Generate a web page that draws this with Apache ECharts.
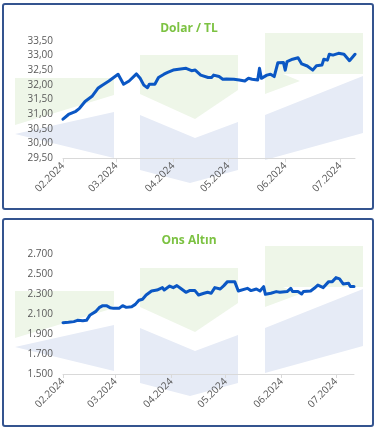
<!DOCTYPE html>
<html><head><meta charset="utf-8">
<script src="https://cdn.jsdelivr.net/npm/echarts@6/dist/echarts.min.js"></script>
<style>html,body{margin:0;padding:0;background:#fff}#c{width:378px;height:431px}</style>
</head><body><div id="c"></div>
<script>
// ---- Data ----
const usdTitle = 'Dolar / TL';
const goldTitle = 'Ons Altın';
const usdRange = ['2024-02-01', '2024-07-09'];
const goldRange = ['2024-02-01', '2024-07-11'];
const usdDates = ['2024-02-01','2024-02-04','2024-02-08','2024-02-10','2024-02-13','2024-02-17','2024-02-20','2024-02-22','2024-02-26','2024-02-27',
 '2024-03-02','2024-03-05','2024-03-08','2024-03-12','2024-03-14','2024-03-16','2024-03-18','2024-03-19','2024-03-22','2024-03-24','2024-03-27','2024-03-29',
 '2024-04-01','2024-04-02','2024-04-05','2024-04-08','2024-04-11','2024-04-13','2024-04-16','2024-04-20','2024-04-22','2024-04-23','2024-04-26','2024-04-28','2024-04-30',
 '2024-05-04','2024-05-07','2024-05-10','2024-05-12','2024-05-14','2024-05-17','2024-05-18','2024-05-19','2024-05-22','2024-05-24','2024-05-26','2024-05-28','2024-05-31',
 '2024-06-01','2024-06-02','2024-06-05','2024-06-08','2024-06-10','2024-06-13','2024-06-16','2024-06-18','2024-06-21','2024-06-22','2024-06-24','2024-06-25','2024-06-27','2024-06-30',
 '2024-07-03','2024-07-06','2024-07-09'];
const usdValues = [30.83,30.99,31.10,31.20,31.43,31.62,31.88,31.97,32.13,32.14,
 32.36,32.02,32.13,32.37,32.22,31.99,31.90,32.02,32.02,32.25,32.36,32.42,
 32.50,32.54,32.54,32.56,32.48,32.50,32.33,32.25,32.25,32.33,32.28,32.19,32.20,
 32.19,32.16,32.13,32.22,32.19,32.16,32.56,32.22,32.33,32.36,32.28,32.75,32.76,
 32.50,32.79,32.87,32.92,32.71,32.64,32.50,32.65,32.67,32.87,32.84,33.04,33.01,33.07,
 33.04,32.82,33.04];
const goldDates = ['2024-02-01','2024-02-04','2024-02-07','2024-02-09','2024-02-12','2024-02-14','2024-02-16','2024-02-19','2024-02-21','2024-02-23','2024-02-25','2024-02-27','2024-02-29',
 '2024-03-03','2024-03-05','2024-03-07','2024-03-10','2024-03-12','2024-03-14','2024-03-16','2024-03-18','2024-03-21','2024-03-24','2024-03-27','2024-03-28','2024-03-31',
 '2024-04-02','2024-04-04','2024-04-06','2024-04-09','2024-04-11','2024-04-14','2024-04-16','2024-04-19','2024-04-21','2024-04-23','2024-04-25','2024-04-28','2024-04-30',
 '2024-05-02','2024-05-06','2024-05-08','2024-05-13','2024-05-15','2024-05-18','2024-05-20','2024-05-22','2024-05-23','2024-05-26','2024-05-29','2024-05-31',
 '2024-06-01','2024-06-04','2024-06-06','2024-06-07','2024-06-10','2024-06-12','2024-06-13','2024-06-17','2024-06-19','2024-06-21','2024-06-24','2024-06-25','2024-06-27','2024-06-29',
 '2024-07-01','2024-07-03','2024-07-05','2024-07-08','2024-07-09','2024-07-11'];
const goldValues = [2015,2018,2025,2038,2035,2038,2092,2125,2165,2185,2185,2165,2158,
 2158,2185,2168,2175,2198,2239,2249,2292,2332,2342,2366,2342,2382,
 2366,2386,2359,2319,2336,2336,2292,2309,2319,2309,2366,2352,2386,
 2426,2426,2332,2359,2336,2352,2332,2376,2299,2309,2326,2319,
 2332,2326,2359,2326,2326,2302,2326,2332,2359,2392,2366,2376,2426,2426,
 2466,2453,2403,2409,2376,2376];
const usdTicks = {min: 29.5, max: 33.5, interval: 0.5};
const goldTicks = {min: 1500, max: 2700, interval: 200};

// ---- helpers ----
function dayList(a, b) {
  const out = [];
  let t = Date.parse(a + 'T00:00:00Z');
  const e = Date.parse(b + 'T00:00:00Z');
  while (t <= e) { out.push(new Date(t).toISOString().slice(0, 10)); t += 86400000; }
  return out;
}
const usdCats = dayList(usdRange[0], usdRange[1]);
const goldCats = dayList(goldRange[0], goldRange[1]);
const isMonthStart = (i, v) => v.slice(8) === '01';
const monthLabel = v => v.slice(5, 7) + '.' + v.slice(0, 4);

const FONT = '"Open Sans", sans-serif';
const LABEL = '#595959';
const GREEN_BG = '#eef6e8';
const BLUE_BG = '#e6ebf6';

function watermark(dy) {
  const polys = [
    [[[15,78],[114,78],[114,95],[15,125]], GREEN_BG],
    [[[15,134],[114,112],[114,158]], BLUE_BG],
    [[[140,55],[238,55],[238,90],[195,119],[140,94]], GREEN_BG],
    [[[140,115],[195,138],[238,122],[238,170],[190,183],[140,170]], BLUE_BG],
    [[[265,33],[363,33],[363,74],[283,74],[300,81],[265,94]], GREEN_BG],
    [[[265,115],[363,76],[363,133],[265,160]], BLUE_BG]
  ];
  return polys.map(p => ({
    type: 'polygon', z: -10, silent: true,
    shape: {points: p[0].map(q => [q[0], q[1] + dy])},
    style: {fill: p[1]}
  }));
}

function xAxisCfg(cats, gi) {
  return {
    type: 'category', gridIndex: gi, data: cats, boundaryGap: false,
    axisLine: {lineStyle: {color: '#d9d9d9', width: 1}},
    axisTick: {show: true, interval: isMonthStart, length: 4, lineStyle: {color: '#d9d9d9'}},
    axisLabel: {interval: isMonthStart, formatter: monthLabel, rotate: 45, color: LABEL,
      fontFamily: FONT, fontSize: 10, margin: 6},
    splitLine: {show: false}
  };
}
function yAxisCfg(t, gi, fmt) {
  return {
    type: 'value', gridIndex: gi, min: t.min, max: t.max, interval: t.interval,
    axisLine: {show: false}, axisTick: {show: false}, splitLine: {show: false},
    axisLabel: {formatter: fmt, color: LABEL, fontFamily: FONT, fontSize: 10, margin: 10}
  };
}

const chart = echarts.init(document.getElementById('c'), null, {renderer: 'canvas'});
chart.setOption({
  animation: false,
  backgroundColor: '#ffffff',
  title: [
    {text: usdTitle, left: 'center', top: 18, textStyle: {color: '#7cc242', fontFamily: FONT, fontSize: 12, fontWeight: 'bold'}},
    {text: goldTitle, left: 'center', top: 230, textStyle: {color: '#7cc242', fontFamily: FONT, fontSize: 12, fontWeight: 'bold'}}
  ],
  graphic: [].concat(watermark(0), watermark(213), [
    {type: 'rect', z: 100, silent: true, shape: {x: 3, y: 4, width: 370, height: 205, r: 2}, style: {fill: null, stroke: '#34548f', lineWidth: 2}},
    {type: 'rect', z: 100, silent: true, shape: {x: 3, y: 219, width: 370, height: 207, r: 2}, style: {fill: null, stroke: '#34548f', lineWidth: 2}}
  ]),
  grid: [
    {left: 63, right: 23, top: 40.7, height: 117.6},
    {left: 63, right: 24, top: 254.3, height: 119.7}
  ],
  xAxis: [xAxisCfg(usdCats, 0), xAxisCfg(goldCats, 1)],
  yAxis: [
    yAxisCfg(usdTicks, 0, v => v.toFixed(2).replace('.', ',')),
    yAxisCfg(goldTicks, 1, v => String(v).replace(/\B(?=(\d{3})+(?!\d))/g, '.') .replace(/^(\d)(\d{3})$/, '$1.$2'))
  ],
  series: [
    {type: 'line', xAxisIndex: 0, yAxisIndex: 0, showSymbol: false, symbol: 'none',
     lineStyle: {color: '#0b57c4', width: 3, join: 'round', cap: 'round'},
     data: usdDates.map((d, i) => [d, usdValues[i]])},
    {type: 'line', xAxisIndex: 1, yAxisIndex: 1, showSymbol: false, symbol: 'none',
     lineStyle: {color: '#0b57c4', width: 3, join: 'round', cap: 'round'},
     data: goldDates.map((d, i) => [d, goldValues[i]])}
  ]
});
</script></body></html>
